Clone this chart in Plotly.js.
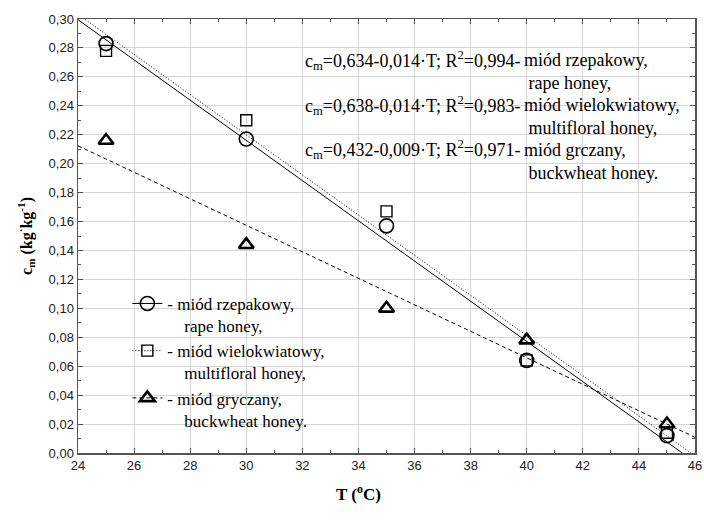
<!DOCTYPE html>
<html><head><meta charset="utf-8">
<script src="https://cdn.plot.ly/plotly-3.0.1.min.js"></script>
<style>html,body{margin:0;padding:0;background:#fff}#chart{width:704px;height:528px}</style>
</head><body><div id="chart"></div>
<script>
// Data
const temps = [25, 30, 35, 40, 45];
const rapeHoney = [0.283, 0.217, 0.157, 0.064, 0.012];
const multifloralHoney = [0.278, 0.230, 0.167, 0.064, 0.014];
const buckwheatHoney = [0.216, 0.144, 0.100, 0.078, 0.020];
const fitRange = [24, 46];
const xTicks = [24, 26, 28, 30, 32, 34, 36, 38, 40, 42, 44, 46];
const equations = [
  'c<sub>m</sub>=0,634-0,014·T; R<sup>2</sup>=0,994- ',
  'c<sub>m</sub>=0,638-0,014·T; R<sup>2</sup>=0,983- ',
  'c<sub>m</sub>=0,432-0,009·T; R<sup>2</sup>=0,971- '
];
const namesPL = ['miód rzepakowy,', 'miód wielokwiatowy,', 'miód grczany,'];
const namesEN = ['rape honey,', 'multifloral honey,', 'buckwheat honey.'];
const legendPL = ['- miód rzepakowy,', '- miód wielokwiatowy,', '- miód gryczany,'];
const xTitle = '<b>T (<sup>o</sup>C)</b>';
const yTitle = '<b>c<sub>m</sub> (kg<sup>·</sup>kg<sup>-1</sup>)</b>';

const SERIF = '"Liberation Serif", "Times New Roman", Times, serif';
const SANS = '"Liberation Sans", Arial, Helvetica, sans-serif';

function linfit(x, y) {
  const n = x.length;
  const mx = x.reduce((a, b) => a + b, 0) / n;
  const my = y.reduce((a, b) => a + b, 0) / n;
  let sxy = 0, sxx = 0;
  for (let i = 0; i < n; i++) { sxy += (x[i] - mx) * (y[i] - my); sxx += (x[i] - mx) ** 2; }
  const b = sxy / sxx; const a = my - b * mx;
  return fitRange.map(t => a + b * t);
}

const series = [rapeHoney, multifloralHoney, buckwheatHoney];
const symbols = ['circle-open', 'square-open', 'triangle-up-open'];
const sizes = [14, 11, 13];
const mlw = [1.6, 1.4, 2.6];
const dashes = ['solid', '1px,2px', '4px,3px'];

const traces = [];
series.forEach((s, i) => {
  traces.push({x: fitRange, y: linfit(temps, s), mode: 'lines', showlegend: false,
    line: {color: '#000', width: 1, dash: dashes[i]}, hoverinfo: 'skip'});
});
series.forEach((s, i) => {
  traces.push({x: temps, y: s, mode: 'markers', showlegend: false,
    marker: {symbol: symbols[i], size: sizes[i], color: '#000', line: {width: mlw[i], color: '#000'}}});
});
series.forEach((s, i) => {
  traces.push({x: [null], y: [null], mode: 'lines+markers',
    name: legendPL[i] + '<br>\u00A0\u00A0\u00A0\u00A0' + namesEN[i],
    marker: {symbol: symbols[i], size: sizes[i], color: '#000', line: {width: mlw[i], color: '#000'}},
    line: {color: '#000', width: 1, dash: dashes[i]}});
});

const annotations = [];
const eqY = [0.905, 0.801, 0.699];
equations.forEach((e, i) => {
  annotations.push({xref: 'paper', yref: 'paper', x: 0.364, y: eqY[i], xanchor: 'left', yanchor: 'middle',
    text: e, showarrow: false, font: {family: SERIF, size: 18, color: '#000'}});
  annotations.push({xref: 'paper', yref: 'paper', x: 0.719, y: eqY[i], xanchor: 'left', yanchor: 'top',
    yshift: 12, align: 'left',
    text: namesPL[i] + '<br>\u00A0' + namesEN[i], showarrow: false,
    font: {family: SERIF, size: 18, color: '#000'}});
});
annotations.push({xref: 'paper', yref: 'paper', x: 0.454, y: -0.092, xanchor: 'center', yanchor: 'middle',
  text: xTitle, showarrow: false, font: {family: SERIF, size: 17, color: '#000'}});

const axisCommon = {
  showline: true, linecolor: '#555', linewidth: 1.5, mirror: 'ticks',
  ticks: 'inside', ticklen: 5, tickcolor: '#555', tickwidth: 1,
  showgrid: true, gridcolor: '#d4d4d4', gridwidth: 1, zeroline: false,
  tickfont: {family: SANS, size: 13, color: '#222'}
};

const layout = {
  width: 704, height: 528,
  margin: {l: 78, r: 9, t: 19, b: 75},
  paper_bgcolor: '#fff', plot_bgcolor: '#fff',
  separators: ',.',
  xaxis: Object.assign({}, axisCommon, {
    range: [24, 46], tickvals: xTicks, ticktext: xTicks.map(String),
    minor: {dtick: 1, ticks: 'inside', ticklen: 3, tickcolor: '#555', showgrid: false}
  }),
  yaxis: Object.assign({}, axisCommon, {
    range: [0, 0.30], dtick: 0.02, tickformat: '.2f',
    minor: {dtick: 0.01, ticks: 'inside', ticklen: 3, tickcolor: '#555', showgrid: false},
    title: {text: yTitle, standoff: 12,
      font: {family: SERIF, size: 16, color: '#000'}}
  }),
  showlegend: true,
  legend: {x: 0.08, y: 0.385, xanchor: 'left', yanchor: 'top', bgcolor: 'rgba(0,0,0,0)',
    valign: 'top', tracegroupgap: 0, itemwidth: 30,
    font: {family: SERIF, size: 17, color: '#000'}},
  annotations: annotations
};

Plotly.newPlot('chart', traces, layout, {staticPlot: true, displayModeBar: false});
</script></body></html>
